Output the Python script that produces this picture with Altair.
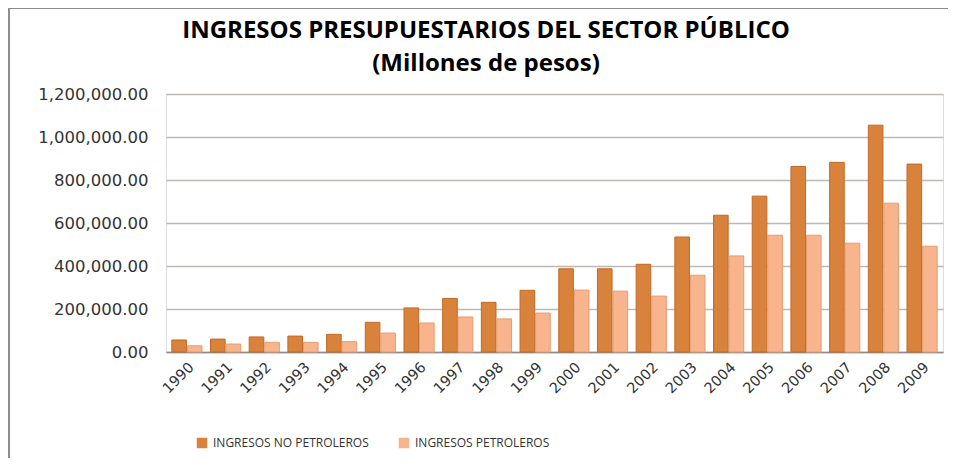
import altair as alt
import pandas as pd

years = [str(y) for y in range(1990, 2010)]
no_petroleros = [56000, 60000, 70000, 74000, 82000, 138000, 205000, 249000, 231000, 287000,
                 387000, 387000, 408000, 535000, 636000, 725000, 863000, 882000, 1055000, 874000]
petroleros = [29000, 37000, 45000, 45000, 48000, 88000, 135000, 163000, 154000, 181000,
              288000, 283000, 260000, 357000, 447000, 543000, 543000, 506000, 692000, 492000]
series = ["INGRESOS NO PETROLEROS", "INGRESOS PETROLEROS"]
y_ticks = [0, 200000, 400000, 600000, 800000, 1000000, 1200000]
title_lines = ["INGRESOS PRESUPUESTARIOS DEL SECTOR PÚBLICO", "(Millones de pesos)"]

rows = []
for i, yr in enumerate(years):
    rows.append({"year": yr, "serie": series[0], "valor": no_petroleros[i]})
    rows.append({"year": yr, "serie": series[1], "valor": petroleros[i]})
df = pd.DataFrame(rows)

fills = ["#D9823B", "#F8B48D"]
strokes = ["#C06A28", "#E59C72"]

one = pd.DataFrame({"a": [0]})

frame_left = alt.Chart(one).mark_rule(color="#8C8C8C", strokeWidth=2).encode(
    x=alt.value(-157), y=alt.value(-86), y2=alt.value(400)
)
frame_top = alt.Chart(one).mark_rule(color="#8C8C8C", strokeWidth=2).encode(
    x=alt.value(-158), x2=alt.value(790), y=alt.value(-86)
)

title1 = alt.Chart(one).mark_text(
    text=title_lines[0], font="Open Sans", fontSize=24, fontWeight="bold",
    color="#000000", align="center", baseline="middle"
).encode(x=alt.value(320), y=alt.value(-63))
title2 = alt.Chart(one).mark_text(
    text=title_lines[1], font="Open Sans", fontSize=24, fontWeight="bold",
    color="#000000", align="center", baseline="middle"
).encode(x=alt.value(320), y=alt.value(-30))

bars = alt.Chart(df).mark_bar(strokeWidth=1).encode(
    x=alt.X("year:N", sort=years,
            scale=alt.Scale(paddingInner=0.22, paddingOuter=0.15),
            axis=alt.Axis(title=None, labelAngle=-45, ticks=False, domain=True,
                          domainColor="#8C8C8C", domainWidth=1.5,
                          labelFont="DejaVu Sans", labelFontSize=14.5, labelColor="#333333",
                          labelPadding=8, grid=False)),
    xOffset=alt.XOffset("serie:N", sort=series, scale=alt.Scale(paddingInner=0.06)),
    y=alt.Y("valor:Q", scale=alt.Scale(domain=[0, 1200000], nice=False),
            axis=alt.Axis(title=None, values=y_ticks, format=",.2f", ticks=False,
                          domain=False, grid=True, gridColor="#BFB8B4", gridWidth=1.5,
                          labelFont="DejaVu Sans", labelFontSize=16.5, labelColor="#333333",
                          labelPadding=18)),
    color=alt.Color("serie:N", sort=series,
                    scale=alt.Scale(domain=series, range=fills),
                    legend=alt.Legend(title=None, orient="none", direction="horizontal",
                                      legendX=30, legendY=343, symbolType="square",
                                      symbolSize=110, symbolStrokeWidth=0,
                                      labelFont="Open Sans", labelFontSize=12,
                                      labelColor="#333333", columnPadding=29,
                                      labelOffset=5, labelLimit=400)),
    stroke=alt.Stroke("serie:N", sort=series,
                      scale=alt.Scale(domain=series, range=strokes), legend=None),
)

chart = alt.layer(frame_left, frame_top, title1, title2, bars).properties(
    width=777,
    height=258,
    padding={"left": 158, "top": 86, "right": 5, "bottom": 106},
    autosize=alt.AutoSizeParams(type="none"),
).configure_view(
    fill="#FCEEE9", stroke="transparent", strokeWidth=0
).configure(background="#FFFFFF")

chart.save("out.html", embed_options={"renderer": "svg", "actions": False})
